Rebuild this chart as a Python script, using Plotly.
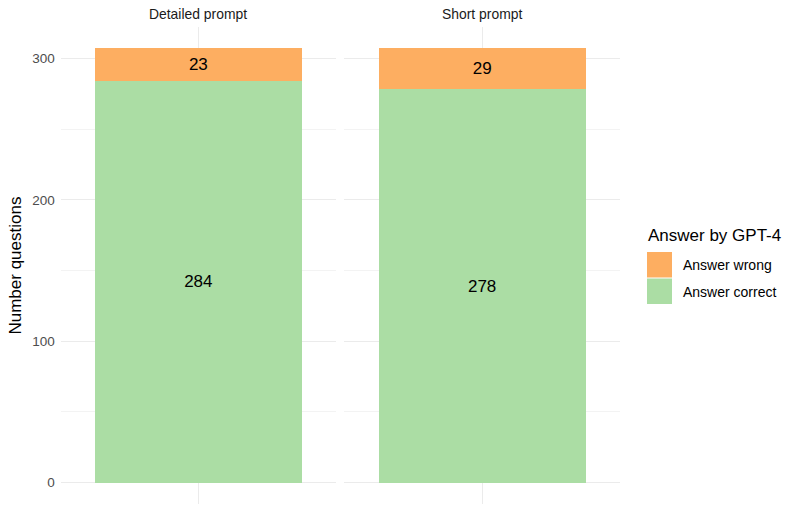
import plotly.graph_objects as go

prompts = ["Detailed prompt", "Short prompt"]
correct = [284, 278]
wrong = [23, 29]
colors = {"Answer correct": "#ABDDA4", "Answer wrong": "#FDAE61"}
legend_order = ["Answer wrong", "Answer correct"]
legend_title = "Answer by GPT-4"
y_title = "Number questions"
y_ticks = [0, 100, 200, 300]

FONT = "Liberation Sans, Arial, sans-serif"
GRID = "#EBEBEB"
W, H = 800, 511


def px(x):
    return x / W


def py(y):
    return 1 - y / H


fig = go.Figure()
for i, p in enumerate(prompts):
    xa = "x" if i == 0 else f"x{i+1}"
    ya = "y" if i == 0 else f"y{i+1}"
    for name, vals in (("Answer correct", correct), ("Answer wrong", wrong)):
        fig.add_trace(go.Bar(
            x=[p], y=[vals[i]], name=name, xaxis=xa, yaxis=ya,
            marker=dict(color=colors[name], line=dict(width=0)),
            width=0.9, text=[vals[i]], texttemplate="%{text}",
            textposition="inside", insidetextanchor="middle", textangle=0,
            textfont=dict(color="black", size=17, family=FONT),
            showlegend=False, hoverinfo="skip",
        ))

top = max(c + w for c, w in zip(correct, wrong))
yr = [-0.05 * top, top * 1.05]

domains = [[px(60.7), px(336)], [px(344.3), px(620)]]
ydom = [py(504.4), py(26.7)]
for i, p in enumerate(prompts):
    xkey = "xaxis" if i == 0 else f"xaxis{i+1}"
    ykey = "yaxis" if i == 0 else f"yaxis{i+1}"
    fig.layout[xkey] = dict(domain=domains[i], anchor="y" if i == 0 else f"y{i+1}",
                            range=[-0.6, 0.6], showgrid=True, gridcolor=GRID, gridwidth=1,
                            showticklabels=False, ticks="", zeroline=False, showline=False,
                            automargin=False, fixedrange=True)
    fig.layout[ykey] = dict(domain=ydom, anchor="x" if i == 0 else f"x{i+1}",
                            range=yr, tickvals=y_ticks, showgrid=True, gridcolor=GRID,
                            gridwidth=1, zeroline=False, showline=False, ticks="",
                            showticklabels=(i == 0), automargin=False,
                            minor=dict(dtick=50, tick0=0, showgrid=True, gridcolor=GRID, gridwidth=0.6),
                            tickfont=dict(size=13.5, color="#4D4D4D", family=FONT),
                            ticklabelstandoff=5)
    fig.add_annotation(text=p, xref=("x" if i == 0 else f"x{i+1}") + " domain", yref="paper",
                       x=0.5, y=py(14.5), xanchor="center", yanchor="middle",
                       showarrow=False, font=dict(size=13.9, color="#1A1A1A", family=FONT))

# y-axis title
fig.add_annotation(text=y_title, xref="paper", yref="paper", x=px(16), y=(ydom[0] + ydom[1]) / 2,
                   textangle=-90, xanchor="center", yanchor="middle", showarrow=False,
                   font=dict(size=17, color="black", family=FONT))

# legend (manual, ggplot style)
fig.add_annotation(text=legend_title, xref="paper", yref="paper", x=px(646), y=py(235),
                   xanchor="left", yanchor="middle", showarrow=False,
                   font=dict(size=17, color="black", family=FONT))
key_top = 252
key_h = 26.5
for k, name in enumerate(legend_order):
    y0 = key_top + k * key_h
    fig.add_shape(type="rect", xref="paper", yref="paper", x0=px(647), x1=px(672),
                  y0=py(y0), y1=py(y0 + key_h - 1), fillcolor=colors[name], line=dict(width=0))
    fig.add_annotation(text=name, xref="paper", yref="paper", x=px(681), y=py(y0 + key_h / 2),
                       xanchor="left", yanchor="middle", showarrow=False,
                       font=dict(size=14, color="black", family=FONT))

fig.update_layout(
    width=W, height=H, barmode="stack",
    margin=dict(l=0, r=0, t=0, b=0, autoexpand=False),
    plot_bgcolor="white", paper_bgcolor="white",
    font=dict(family=FONT),
    showlegend=False,
)

fig.write_html("out.html", config={"displayModeBar": False, "staticPlot": True},
               post_script="document.body.style.margin='0';")
